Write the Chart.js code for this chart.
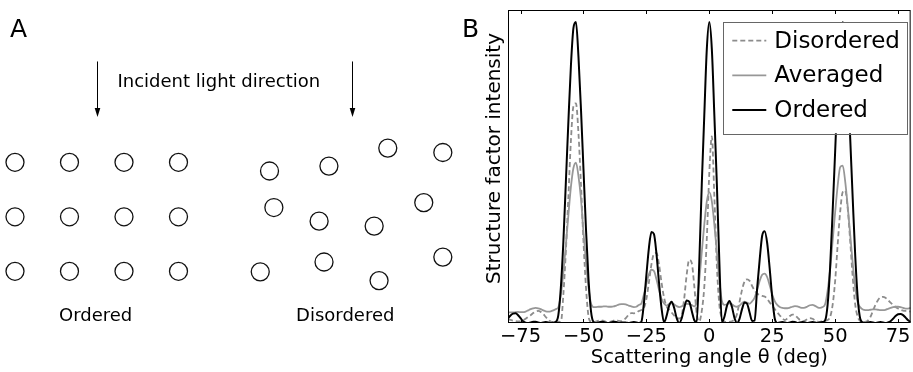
<!DOCTYPE html>
<html lang="en">
<head>
<meta charset="UTF-8">
<title>Ordered vs disordered scattering</title>
<script src="https://cdn.jsdelivr.net/npm/chart.js"></script>
<style>
    * { margin: 0; padding: 0; box-sizing: border-box; }
    body { width: 913px; height: 372px; background: #fff; position: relative; overflow: hidden; }
    #panelA { position: absolute; left: 0; top: 0; }
    #panelB { position: absolute; left: 480px; top: 0; }
</style>
</head>
<body>
<canvas id="panelA" width="480" height="372"></canvas>
<canvas id="panelB" width="433" height="372"></canvas>
<script>
// ---- panel A: particle layouts (lattice units, y grows downward) ----
const orderedX = [0, 1, 2, 3, 0, 1, 2, 3, 0, 1, 2, 3];
const orderedY = [0, 0, 0, 0, 1, 1, 1, 1, 2, 2, 2, 2];
const disorderedX = [4.67, 5.76, 6.84, 7.85, 4.75, 5.58, 6.59, 7.50, 4.50, 5.67, 6.68, 7.85];
const disorderedY = [0.16, 0.07, -0.26, -0.18, 0.83, 1.08, 1.17, 0.74, 2.01, 1.83, 2.17, 1.74];
const arrowX = [1.5, 6.18];

// ---- panel B: structure factor vs scattering angle ----
const angles = [
    -80, -79, -78, -77, -76, -75, -74, -73, -72, -71,
    -70, -69, -68, -67, -66, -65, -64, -63, -62, -61,
    -60, -59, -58, -57, -56, -55, -54, -53, -52, -51,
    -50, -49, -48, -47, -46, -45, -44, -43, -42, -41,
    -40, -39, -38, -37, -36, -35, -34, -33, -32, -31,
    -30, -29, -28, -27, -26, -25, -24, -23, -22, -21,
    -20, -19, -18, -17, -16, -15, -14, -13, -12, -11,
    -10, -9, -8, -7, -6, -5, -4, -3, -2, -1,
    0, 1, 2, 3, 4, 5, 6, 7, 8, 9,
    10, 11, 12, 13, 14, 15, 16, 17, 18, 19,
    20, 21, 22, 23, 24, 25, 26, 27, 28, 29,
    30, 31, 32, 33, 34, 35, 36, 37, 38, 39,
    40, 41, 42, 43, 44, 45, 46, 47, 48, 49,
    50, 51, 52, 53, 54, 55, 56, 57, 58, 59,
    60, 61, 62, 63, 64, 65, 66, 67, 68, 69,
    70, 71, 72, 73, 74, 75, 76, 77, 78, 79,
    80
];
const disordered = [
    1.2, 1.0, 0.8, 0.6, 0.5, 0.6, 0.9, 1.4, 2.0, 2.6,
    3.3, 3.8, 4.0, 3.7, 3.0, 2.0, 1.1, 0.5, 0.4, 0.8,
    0.5, 0.3, 9.5, 24, 42, 60.6, 72, 73, 63, 46,
    27, 11.7, 2.2, 0.4, 0.3, 0.5, 0.8, 0.9, 0.7, 0.4,
    0.3, 0.5, 0.8, 0.9, 0.7, 0.6, 1.0, 1.8, 2.8, 3.3,
    3.2, 3.4, 4.0, 4.3, 5, 8, 13.5, 19.5, 23, 23.3,
    19.5, 13.5, 8.5, 5.5, 4.5, 3.5, 2.5, 1.5, 1.5, 2.5,
    8, 16, 21, 20, 12.5, 3, 0.5, 4, 12, 28,
    50, 62, 42, 19, 6, 1.5, 0.5, 0.3, 0.4, 0.6,
    1.2, 3, 7, 11, 13.8, 14.5, 14.0, 12.3, 10.8, 9.8,
    9.3, 9.0, 8.8, 8.0, 6.8, 5.7, 4.6, 3.5, 2.5, 1.6,
    1.0, 1.5, 2.3, 2.8, 2.6, 1.8, 1.0, 0.6, 0.8, 1.3,
    1.6, 1.4, 0.9, 0.5, 0.4, 0.6, 0.8, 1.0, 2, 6,
    14, 26, 37, 43.5, 44, 38, 27, 15, 6, 2,
    0.6, 0.3, 0.4, 0.8, 2.0, 4.0, 6.0, 7.6, 8.5, 8.7,
    8.4, 7.6, 6.8, 6.0, 5.3, 4.8, 4.4, 4.1, 4.0, 3.9,
    3.8
];
const averaged = [
    3.6, 3.5, 3.5, 3.6, 3.7, 3.6, 3.6, 3.8, 4.2, 4.6,
    4.9, 5.0, 4.9, 4.6, 4.2, 3.9, 3.8, 3.9, 4.2, 4.6,
    5.2, 9.4, 16.7, 26, 35.9, 45.2, 51.5, 53.3, 48.8, 41.2,
    30, 20.2, 11.8, 6.5, 5.3, 5.3, 5.4, 5.4, 5.5, 5.5,
    5.4, 5.4, 5.5, 5.8, 6.1, 6.3, 6.3, 6.1, 5.8, 5.5,
    5.3, 5.4, 6.0, 6.5, 9.5, 13, 16.2, 17.7, 17.3, 14.5,
    11, 8, 6.5, 5.8, 6.3, 6.5, 6.2, 5.6, 5.3, 5.5,
    6.0, 6.4, 6.3, 6.0, 5.5, 7.3, 14.2, 23.5, 32.7, 40.4,
    43.5, 40.4, 32.7, 23.5, 14.2, 7.3, 6.0, 6.2, 6.5, 6.2,
    5.6, 5.4, 5.8, 6.6, 7.1, 6.8, 6.4, 7.2, 8.4, 11,
    14, 16, 16.4, 15.2, 12.5, 9.5, 7.3, 6.0, 5.3, 5.0,
    4.9, 4.9, 5.1, 5.4, 5.6, 5.5, 5.2, 5.0, 5.1, 5.5,
    5.9, 6.0, 5.7, 5.2, 5.0, 5.3, 6.2, 10.7, 17.8, 27.3,
    36.8, 45.6, 51.8, 52.3, 47, 38.7, 29.2, 19.7, 11.7, 6.7,
    5.2, 4.5, 4.3, 4.3, 4.4, 4.5, 4.5, 4.4, 4.3, 4.3,
    4.4, 4.7, 5.0, 5.3, 5.4, 5.4, 5.3, 5.0, 4.8, 4.8,
    5.0
];
const ordered = [
    1.5, 2.5, 3.1, 3.2, 2.6, 1.6, 0.6, 0.1, 0, 0.2,
    0.4, 0.4, 0.2, 0, 0.2, 0.3, 0.2, 0, 0.1, 0.4,
    2.6, 11.8, 27, 47, 67, 85.5, 98, 100, 88.5, 71,
    51, 31, 14.4, 3.8, 0.3, 0, 0.2, 0.4, 0.3, 0.1,
    0, 0.2, 0.4, 0.3, 0, 0.1, 0.2, 0.1, 0, 0.2,
    0.3, 0.2, 0, 0.4, 6.5, 16, 25, 30.2, 29.5, 23,
    13.5, 5, 0.2, 2.3, 5.7, 7.1, 5.1, 1.7, 0, 1.5,
    4.9, 7.5, 7.1, 4.1, 1.0, 0.3, 20, 46, 69, 91,
    100, 91, 69, 46, 20, 0.3, 2.1, 5.7, 7.3, 5.3,
    1.7, 0, 1.4, 4.6, 6.8, 6.4, 3.5, 0.7, 0.8, 11.5,
    21, 29, 30.5, 26.5, 18, 8.5, 1.5, 0, 0.2, 0.3,
    0.2, 0, 0.2, 0.4, 0.3, 0, 0.2, 0.3, 0.2, 0,
    0.2, 0.3, 0.2, 0, 0.2, 0.3, 0.8, 6, 18.5, 37,
    57, 77, 92.5, 100, 95, 80.5, 61, 41, 22, 8,
    1.3, 0.2, 0, 0.2, 0.3, 0.2, 0, 0.2, 0.3, 0.2,
    0, 0.2, 0.6, 1.4, 2.3, 2.9, 3.0, 2.6, 1.8, 0.9,
    0.3
];
const tickValues = [-75, -50, -25, 0, 25, 50, 75];

Chart.defaults.font.family = '"DejaVu Sans", sans-serif';
Chart.defaults.color = '#000';

// arrows, captions and panel letters for the sketch
const sketchPlugin = {
    id: 'sketch',
    afterDraw(chart) {
        const { ctx, scales: { x, y } } = chart;
        ctx.save();
        ctx.strokeStyle = '#000';
        ctx.fillStyle = '#000';
        ctx.lineWidth = 1;
        arrowX.forEach(ax => {
            const px = Math.round(x.getPixelForValue(ax)) + 0.5;
            const y0 = y.getPixelForValue(-1.85);
            const y1 = y.getPixelForValue(-0.83);
            ctx.beginPath();
            ctx.moveTo(px, y0);
            ctx.lineTo(px, y1 - 8);
            ctx.stroke();
            ctx.beginPath();
            ctx.moveTo(px - 2.8, y1 - 9);
            ctx.lineTo(px + 2.8, y1 - 9);
            ctx.lineTo(px, y1);
            ctx.closePath();
            ctx.fill();
        });
        ctx.textAlign = 'center';
        ctx.textBaseline = 'middle';
        ctx.font = '18px "DejaVu Sans"';
        ctx.fillText('Incident light direction', x.getPixelForValue(3.74), y.getPixelForValue(-1.46));
        ctx.fillText('Ordered', x.getPixelForValue(1.48), y.getPixelForValue(2.82));
        ctx.fillText('Disordered', x.getPixelForValue(6.06), y.getPixelForValue(2.82));
        ctx.textAlign = 'left';
        ctx.font = '25px "DejaVu Sans"';
        ctx.fillText('A', 10, 30);
        ctx.fillText('B', 462, 30);
        ctx.restore();
    }
};

const circleStyle = {
    pointRadius: 9,
    pointHoverRadius: 9,
    pointBorderWidth: 1.3,
    pointBorderColor: '#111',
    pointBackgroundColor: 'rgba(255,255,255,0)',
    showLine: false
};

new Chart(document.getElementById('panelA'), {
    type: 'scatter',
    data: {
        datasets: [
            { data: orderedX.map((v, i) => ({ x: v, y: orderedY[i] })), ...circleStyle },
            { data: disorderedX.map((v, i) => ({ x: v, y: disorderedY[i] })), ...circleStyle }
        ]
    },
    options: {
        responsive: false,
        animation: false,
        events: [],
        layout: { padding: 0, autoPadding: false },
        plugins: { legend: { display: false }, tooltip: { enabled: false } },
        scales: {
            x: { type: 'linear', display: false, min: -0.275, max: 8.532 },
            y: { type: 'linear', display: false, min: -2.978, max: 3.848, reverse: true }
        }
    },
    plugins: [sketchPlugin]
});

// frame with inward ticks, y label, and the boxed legend
const frameLegendPlugin = {
    id: 'frameLegend',
    afterDatasetsDraw(chart) {
        const { ctx, chartArea: a, scales: { x } } = chart;
        ctx.save();
        ctx.strokeStyle = '#000';
        ctx.lineWidth = 1;
        ctx.strokeRect(a.left + 0.5, a.top + 0.5, a.right - a.left - 1, a.bottom - a.top - 1);
        tickValues.forEach(v => {
            const px = Math.round(x.getPixelForValue(v)) + 0.5;
            ctx.beginPath();
            ctx.moveTo(px, a.top);
            ctx.lineTo(px, a.top + 4);
            ctx.moveTo(px, a.bottom);
            ctx.lineTo(px, a.bottom - 4);
            ctx.stroke();
        });

        // y axis label, sitting a little above the axis centre as in the original
        ctx.save();
        ctx.translate(15, (a.top + a.bottom) / 2 - 8);
        ctx.rotate(-Math.PI / 2);
        ctx.font = '20px "DejaVu Sans"';
        ctx.fillStyle = '#000';
        ctx.textAlign = 'center';
        ctx.textBaseline = 'middle';
        ctx.fillText('Structure factor intensity', 0, 0);
        ctx.restore();

        ctx.font = '23px "DejaVu Sans"';
        const sets = chart.data.datasets;
        const textW = Math.max(...sets.map(d => ctx.measureText(d.label).width));
        const boxW = 9 + 34 + 8 + textW + 7;
        const boxH = 111.6;
        const bx = a.right - 3.7 - boxW;
        const by = a.top + 11.7;
        ctx.fillStyle = '#fff';
        ctx.fillRect(bx, by, boxW, boxH);
        ctx.strokeStyle = '#666';
        ctx.strokeRect(Math.round(bx) + 0.5, Math.round(by) + 0.5, Math.round(boxW), Math.round(boxH));
        ctx.textBaseline = 'middle';
        ctx.textAlign = 'left';
        sets.forEach((d, i) => {
            const cy = by + 19 + i * 34.7;
            ctx.strokeStyle = d.borderColor;
            ctx.lineWidth = d.borderWidth;
            ctx.setLineDash(d.borderDash || []);
            ctx.beginPath();
            ctx.moveTo(bx + 9, cy);
            ctx.lineTo(bx + 43, cy);
            ctx.stroke();
            ctx.setLineDash([]);
            ctx.fillStyle = '#000';
            ctx.fillText(d.label, bx + 51, cy + 1);
        });
        ctx.restore();
    }
};

const toPoints = vals => angles.map((a, i) => ({ x: a, y: vals[i] }));

new Chart(document.getElementById('panelB'), {
    type: 'line',
    data: {
        datasets: [
            { label: 'Disordered', data: toPoints(disordered), borderColor: '#8c8c8c', borderWidth: 1.8, borderDash: [5, 3], order: 3 },
            { label: 'Averaged', data: toPoints(averaged), borderColor: '#979797', borderWidth: 1.8, order: 2 },
            { label: 'Ordered', data: toPoints(ordered), borderColor: '#000', borderWidth: 2, order: 1 }
        ]
    },
    options: {
        responsive: false,
        animation: false,
        events: [],
        layout: { padding: { top: 10, right: 1, left: 0, bottom: 0 }, autoPadding: false },
        elements: {
            point: { radius: 0 },
            line: { cubicInterpolationMode: 'monotone', fill: false }
        },
        plugins: { legend: { display: false }, tooltip: { enabled: false } },
        scales: {
            x: {
                type: 'linear',
                min: -80,
                max: 80,
                grid: { display: false, drawTicks: false },
                border: { display: false },
                afterBuildTicks: s => { s.ticks = tickValues.map(v => ({ value: v })); },
                afterFit: s => { s.height = 49; },
                ticks: {
                    font: { size: 19.5 },
                    padding: 2.5,
                    maxRotation: 0,
                    autoSkip: false,
                    callback: v => (v < 0 ? '\u2212' + Math.abs(v) : String(v))
                },
                title: {
                    display: true,
                    text: 'Scattering angle \u03b8 (deg)',
                    font: { size: 19.5 },
                    padding: { top: 0, bottom: 2 }
                }
            },
            y: {
                type: 'linear',
                min: 0,
                max: 104,
                grid: { display: false, drawTicks: false },
                border: { display: false },
                ticks: { display: false },
                afterFit: s => { s.width = 28; },
                title: { display: false }
            }
        }
    },
    plugins: [frameLegendPlugin]
});
</script>
</body>
</html>
